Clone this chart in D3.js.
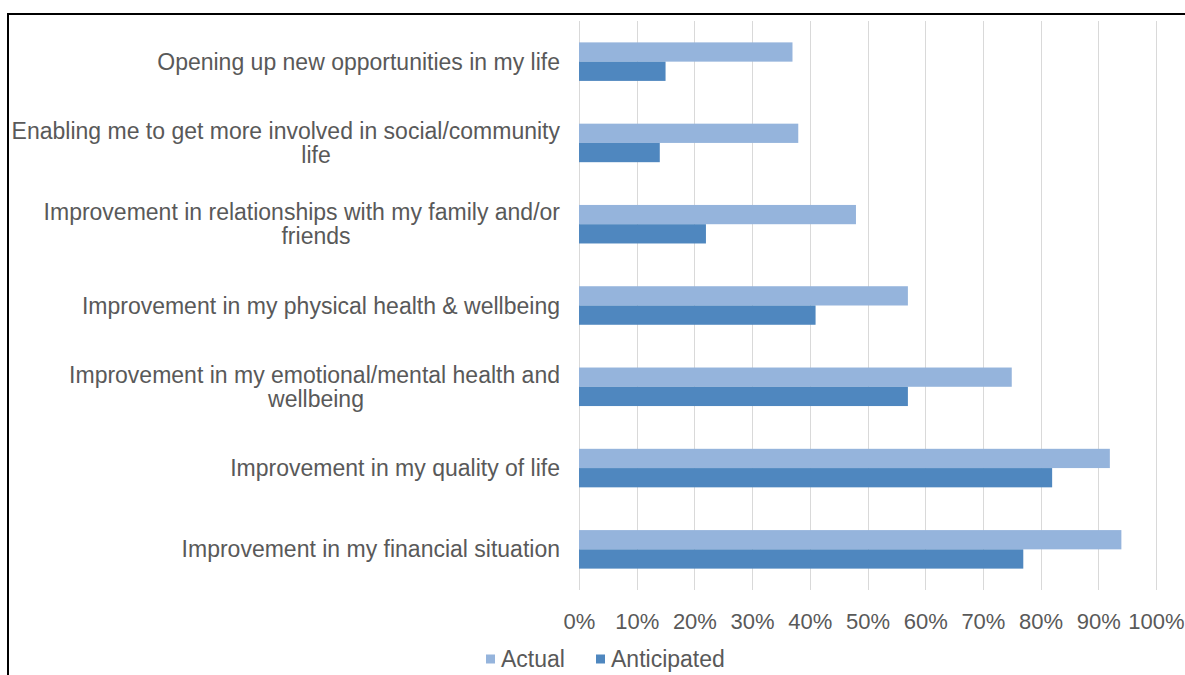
<!DOCTYPE html>
<html>
<head>
<meta charset="utf-8">
<script src="https://cdn.jsdelivr.net/npm/d3@7"></script>
<style>
  html, body { margin: 0; padding: 0; background: #ffffff; }
  svg { display: block; }
</style>
</head>
<body>
<svg id="chart" width="1185" height="675"></svg>
<script>
// Survey outcomes, top to bottom; "\n" marks where a label wraps
const categories = [
  "Opening up new opportunities in my life",
  "Enabling me to get more involved in social/community\nlife",
  "Improvement in relationships with my family and/or\nfriends",
  "Improvement in my physical health & wellbeing",
  "Improvement in my emotional/mental health and\nwellbeing",
  "Improvement in my quality of life",
  "Improvement in my financial situation"
];
const seriesNames = ["Actual", "Anticipated"];
const actualValues = [0.37, 0.38, 0.48, 0.57, 0.75, 0.92, 0.94];
const anticipatedValues = [0.15, 0.14, 0.22, 0.41, 0.57, 0.82, 0.77];
const tickValues = [0, 0.1, 0.2, 0.3, 0.4, 0.5, 0.6, 0.7, 0.8, 0.9, 1.0];
const tickLabels = ["0%", "10%", "20%", "30%", "40%", "50%", "60%", "70%", "80%", "90%", "100%"];

const colors = { Actual: "#95b4dc", Anticipated: "#4f87bf" };
const textColor = "#595959";
const font = "'Liberation Sans', Arial, sans-serif";
const labelSize = 23;
const tickSize = 22;

const svg = d3.select("#chart");
const plot = { left: 579, right: 1156, top: 21, bottom: 590 };

const x = d3.scaleLinear().domain([0, 1]).range([plot.left, plot.right]);
const gapRatio = 0.526;
const y = d3.scaleBand()
  .domain(categories)
  .range([plot.top, plot.bottom])
  .paddingInner(gapRatio)
  .paddingOuter(gapRatio / 2);
const ySeries = d3.scaleBand().domain(seriesNames).range([0, y.bandwidth()]);

// Frame around the chart
svg.append("path")
  .attr("d", "M8,675 L8,14 L1185,14")
  .attr("fill", "none")
  .attr("stroke", "#000")
  .attr("stroke-width", 2);

// Vertical gridlines
svg.append("g")
  .attr("transform", `translate(0,${plot.bottom})`)
  .call(d3.axisBottom(x).tickValues(tickValues).tickSize(-(plot.bottom - plot.top)).tickFormat(""))
  .call(g => g.select(".domain").remove())
  .call(g => g.selectAll("line").attr("stroke", "#d9d9d9").attr("stroke-width", 1).attr("shape-rendering", "crispEdges"));

// Percent tick labels
svg.append("g")
  .attr("transform", `translate(0,${plot.bottom})`)
  .call(d3.axisBottom(x).tickValues(tickValues).tickSize(0).tickPadding(0)
    .tickFormat((d, i) => tickLabels[i]))
  .call(g => g.select(".domain").remove())
  .call(g => g.selectAll("text")
    .attr("y", 39)
    .attr("dy", null)
    .attr("fill", textColor)
    .attr("font-family", font)
    .attr("font-size", tickSize));

// Bars
const rows = categories.map((c, i) => ({
  category: c,
  values: [
    { series: "Actual", value: actualValues[i] },
    { series: "Anticipated", value: anticipatedValues[i] }
  ]
}));

const groups = svg.append("g").selectAll("g")
  .data(rows)
  .join("g")
  .attr("transform", d => `translate(0,${y(d.category)})`);

groups.selectAll("rect")
  .data(d => d.values)
  .join("rect")
  .attr("x", x(0))
  .attr("y", d => ySeries(d.series))
  .attr("width", d => x(d.value) - x(0))
  .attr("height", ySeries.bandwidth())
  .attr("fill", d => colors[d.series]);

// Category labels (single lines right-aligned, wrapped lines centred)
const lineHeight = 24;
const labelRight = 560;
const wrapCenter = 316;
const labels = svg.append("g");
categories.forEach(c => {
  const lines = c.split("\n");
  const cy = y(c) + y.bandwidth() / 2;
  const t = labels.append("text")
    .attr("font-family", font)
    .attr("font-size", labelSize)
    .attr("fill", textColor);
  lines.forEach((line, j) => {
    const wrapped = lines.length > 1 && j > 0;
    t.append("tspan")
      .attr("x", wrapped ? wrapCenter : labelRight)
      .attr("text-anchor", wrapped ? "middle" : "end")
      .attr("y", cy + (j - (lines.length - 1) / 2) * lineHeight)
      .attr("dy", "0.35em")
      .text(line);
  });
});

// Legend
const legendX = [486, 596];
const legend = svg.append("g").selectAll("g")
  .data(seriesNames)
  .join("g")
  .attr("transform", (d, i) => `translate(${legendX[i]},659)`);
legend.append("rect")
  .attr("x", 0).attr("y", -4.5)
  .attr("width", 9).attr("height", 9)
  .attr("fill", d => colors[d]);
legend.append("text")
  .attr("x", 15)
  .attr("dy", "0.35em")
  .attr("font-family", font)
  .attr("font-size", labelSize)
  .attr("fill", textColor)
  .text(d => d);
</script>
</body>
</html>
